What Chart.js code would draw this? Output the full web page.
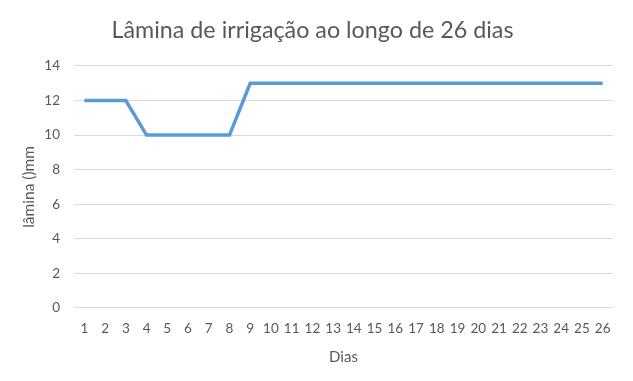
<!DOCTYPE html>
<html><head><meta charset="utf-8">
<script src="https://cdn.jsdelivr.net/npm/chart.js@4"></script>
<style>html,body{margin:0;padding:0;background:#fff}#w{width:633px;height:381px}</style>
</head><body><div id="w"><canvas id="c"></canvas></div>
<script>
const dias = ["1","2","3","4","5","6","7","8","9","10","11","12","13","14","15","16","17","18","19","20","21","22","23","24","25","26"];
const lamina = [12,12,12,10,10,10,10,10,13,13,13,13,13,13,13,13,13,13,13,13,13,13,13,13,13,13];
const yTicks = [0,2,4,6,8,10,12,14];
const FONT = "Lato";
const shiftTitle = {
  id: 'shiftTitle',
  afterLayout(chart) { const t = chart.titleBlock; if (t) { t.left += 6; t.right += 6; } }
};
new Chart(document.getElementById('c'), {
  type: 'line',
  data: { labels: dias, datasets: [{ data: lamina, borderColor: '#5B9BD5', borderWidth: 3.5, pointRadius: 0, tension: 0, fill: false, borderCapStyle: 'butt' }] },
  options: {
    responsive: true, maintainAspectRatio: false, animation: false,
    layout: { padding: { left: 0, right: 20, top: 0, bottom: 15 } },
    plugins: {
      legend: { display: false }, tooltip: { enabled: false },
      title: { display: true, text: 'Lâmina de irrigação ao longo de 26 dias', color: '#595959', font: { family: FONT, size: 23.3, weight: 'normal' }, padding: { top: 16, bottom: 22 } }
    },
    scales: {
      x: {
        offset: true,
        grid: { display: false, drawTicks: false }, border: { display: false },
        ticks: { color: '#595959', font: { family: FONT, size: 13.5 }, padding: 13, maxRotation: 0, autoSkip: false },
        title: { display: true, text: 'Dias', color: '#595959', font: { family: FONT, size: 15 }, padding: { top: -2, bottom: 0 } }
      },
      y: {
        min: 0, max: 14,
        afterBuildTicks: s => { s.ticks = yTicks.map(v => ({ value: v })); },
        afterFit: s => { s.width = 74; },
        grid: { color: '#d9d9d9', drawTicks: false, lineWidth: 1 }, border: { display: false },
        ticks: { color: '#595959', font: { family: FONT, size: 13.5 }, padding: 14 },
        title: { display: true, text: 'lâmina ()mm', color: '#595959', font: { family: FONT, size: 15.5 }, padding: { top: 20, bottom: 0 } }
      }
    }
  },
  plugins: [shiftTitle]
});
</script></body></html>
